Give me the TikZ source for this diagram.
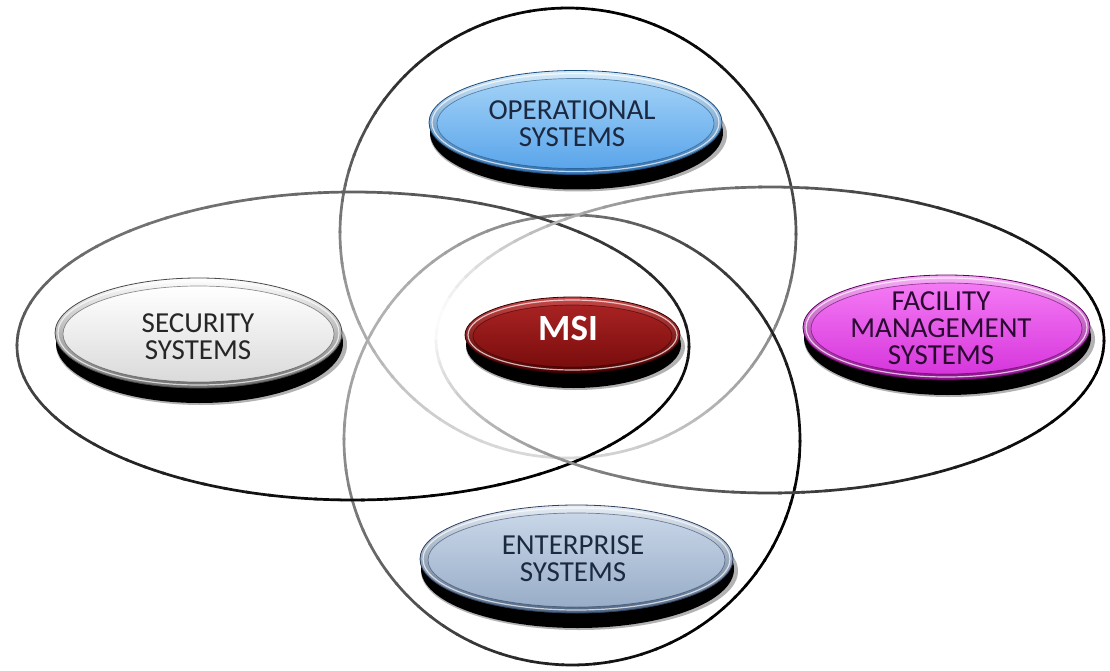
\documentclass[tikz,border=0pt]{standalone}
\usepackage{fontspec}
\setmainfont{Carlito}
\definecolor{opsRimT}{HTML}{D6ECFB}
\definecolor{opsRimB}{HTML}{2F6FAE}
\definecolor{opsFillT}{HTML}{A2D2F7}
\definecolor{opsFillB}{HTML}{5AA5EA}
\definecolor{opsLine}{HTML}{1D4F80}
\definecolor{opsText}{HTML}{1C2840}
\definecolor{secRimT}{HTML}{FFFFFF}
\definecolor{secRimB}{HTML}{6E6E6E}
\definecolor{secFillT}{HTML}{FFFFFF}
\definecolor{secFillB}{HTML}{DADADA}
\definecolor{secLine}{HTML}{4A4A4A}
\definecolor{secText}{HTML}{262626}
\definecolor{msiRimT}{HTML}{C84848}
\definecolor{msiRimB}{HTML}{4A0000}
\definecolor{msiFillT}{HTML}{A82222}
\definecolor{msiFillB}{HTML}{7A0D0D}
\definecolor{msiLine}{HTML}{3A0000}
\definecolor{facRimT}{HTML}{F8B0F8}
\definecolor{facRimB}{HTML}{8A108A}
\definecolor{facFillT}{HTML}{F47AF4}
\definecolor{facFillB}{HTML}{D636DC}
\definecolor{facLine}{HTML}{600060}
\definecolor{facText}{HTML}{2A0A30}
\definecolor{entRimT}{HTML}{E6EDF5}
\definecolor{entRimB}{HTML}{4F6684}
\definecolor{entFillT}{HTML}{C9D6E8}
\definecolor{entFillB}{HTML}{98ADC8}
\definecolor{entLine}{HTML}{2F4260}
\definecolor{entText}{HTML}{1C2A40}
% shaded ring: cx cy rx ry lightangle minshade exponent
\newcommand\shadedring[7]{%
  \foreach \a in {0,4,...,356}{%
    \pgfmathsetmacro\mm{\a+2}%
    \pgfmathsetmacro\tt{max(0.001,min(1,(1.0001-cos(\mm-#5))/2.0002))}%
    \pgfmathsetmacro\ss{max(0,min(100,#6+(100-#6)*(\tt)^#7))}%
    \draw[black!\ss, line width=2.7] ({#1+#3*cos(\a)},{#2+#4*sin(\a)}) arc[start angle=\a, end angle=\a+4.6, x radius=#3, y radius=#4];
  }%
}
% button: cx cy rx ry rimtop rimbot filltop fillbot line
\newcommand\btnshape[9]{%
  \pgfmathsetmacro\bxa{#3+2}\pgfmathsetmacro\bya{#4+5}%
  \pgfmathsetmacro\bxb{#3-3}\pgfmathsetmacro\byb{#4-3}%
  \pgfmathsetmacro\bxc{#3-8}\pgfmathsetmacro\byc{#4-7}%
  \fill[black!30] (#1+3,#2+12) ellipse[x radius=\bxa, y radius=\bya];
  \fill[black] (#1+1,#2+10) ellipse[x radius=#3, y radius=\bya];
  \shade[top color=#5, bottom color=#6] (#1,#2) ellipse[x radius=#3, y radius=#4];
  \draw[#9, line width=0.8] (#1,#2) ellipse[x radius=#3, y radius=#4];
  \draw[white, opacity=0.7, line width=1.2] (#1,#2) ellipse[x radius=\bxb, y radius=\byb];
  \shade[top color=#7, bottom color=#8] (#1,#2+1) ellipse[x radius=\bxc, y radius=\byc];
  \draw[#9, opacity=0.6, line width=0.7] (#1,#2+1) ellipse[x radius=\bxc, y radius=\byc];
}
\begin{document}
\begin{tikzpicture}[x=1pt,y=-1pt,
  lbl/.style={align=center, inner sep=0pt, font={\fontsize{29}{27}\selectfont}}]
\fill[white] (0,0) rectangle (1110,671);
\useasboundingbox (0,0) rectangle (1110,671);
% large overlapping ellipses
\shadedring{568}{233}{228}{225}{100}{15}{1}
\shadedring{572}{440}{228}{225}{215}{30}{0.7}
\shadedring{353}{346}{336}{154}{235}{55}{0.8}
\shadedring{770}{340}{334}{153}{188}{0}{0.6}
% buttons
\btnshape{575.5}{122.5}{146.5}{52}{opsRimT}{opsRimB}{opsFillT}{opsFillB}{opsLine}
\btnshape{198.5}{333}{143.5}{55}{secRimT}{secRimB}{secFillT}{secFillB}{secLine}
\btnshape{572.5}{335}{107.5}{38}{msiRimT}{msiRimB}{msiFillT}{msiFillB}{msiLine}
\btnshape{946.5}{327.5}{143.5}{52.5}{facRimT}{facRimB}{facFillT}{facFillB}{facLine}
\btnshape{576.5}{559}{156.5}{54}{entRimT}{entRimB}{entFillT}{entFillB}{entLine}
% labels
\node[lbl, text=opsText] (ops) at (572,124) {OPERATIONAL\\SYSTEMS};
\node[lbl, text=secText] (sec) at (198,337) {SECURITY\\SYSTEMS};
\node[lbl, text=white, font={\fontsize{37}{40}\selectfont\bfseries}] (msi) at (568,328) {MSI};
\node[lbl, text=facText] (fac) at (941,328) {FACILITY\\MANAGEMENT\\SYSTEMS};
\node[lbl, text=entText] (ent) at (573,559) {ENTERPRISE\\SYSTEMS};
\end{tikzpicture}
\end{document}
